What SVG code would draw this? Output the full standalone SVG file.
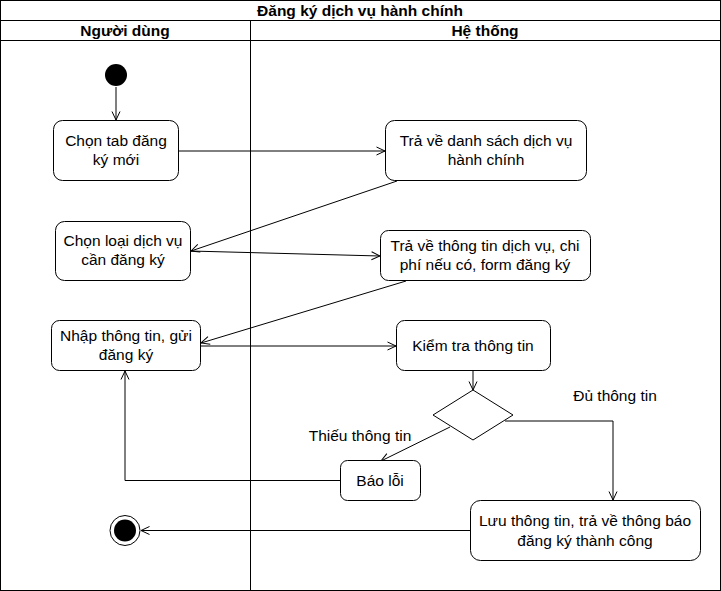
<svg xmlns="http://www.w3.org/2000/svg" width="721" height="591" viewBox="0 0 721 591">
<style>
.t{font-family:"Liberation Sans",Arial,sans-serif;font-size:15.5px;fill:#000;text-anchor:middle}
.h{font-family:"Liberation Sans",Arial,sans-serif;font-size:15.5px;font-weight:bold;fill:#000;text-anchor:middle}
.box{fill:#fff;stroke:#000;stroke-width:1}
.ln{fill:none;stroke:#000;stroke-width:1}
</style>
<defs>
<marker id="arr" viewBox="0 0 10 10" refX="9.5" refY="5" markerWidth="10" markerHeight="10" markerUnits="userSpaceOnUse" orient="auto">
<path d="M1,1 L9.5,5 L1,9" fill="none" stroke="#000" stroke-width="1"/>
</marker>
</defs>
<g id="pool">
<rect x="0.5" y="0.5" width="720" height="590" fill="#fff" stroke="#000"/>
<line x1="0.5" y1="20.5" x2="720.5" y2="20.5" stroke="#000"/>
<line x1="0.5" y1="40.5" x2="720.5" y2="40.5" stroke="#000"/>
<line x1="250.5" y1="20.5" x2="250.5" y2="590.5" stroke="#000"/>
<text class="h" x="360" y="16">Đăng ký dịch vụ hành chính</text>
<text class="h" x="125" y="36">Người dùng</text>
<text class="h" x="485" y="36">Hệ thống</text>
</g>
<g id="edges">
<path class="ln" d="M116,87 L116,120" marker-end="url(#arr)"/>
<path class="ln" d="M178,151 L385,151" marker-end="url(#arr)"/>
<path class="ln" d="M397,181 L191,251" marker-end="url(#arr)"/>
<path class="ln" d="M190,251 L380,256" marker-end="url(#arr)"/>
<path class="ln" d="M406,281 L201,343" marker-end="url(#arr)"/>
<path class="ln" d="M200,346 L396,346" marker-end="url(#arr)"/>
<path class="ln" d="M473,371 L473,390" marker-end="url(#arr)"/>
<path class="ln" d="M505,421 L613,421 L613,500" marker-end="url(#arr)"/>
<path class="ln" d="M450,427 L381,461" marker-end="url(#arr)"/>
<path class="ln" d="M340,480.5 L125,480.5 L125,371" marker-end="url(#arr)"/>
<path class="ln" d="M470,530.5 L141,530.5" marker-end="url(#arr)"/>
<text class="t" x="360" y="441">Thiếu thông tin</text>
<text class="t" x="615" y="401">Đủ thông tin</text>
</g>
<g id="start"><circle cx="116" cy="75" r="11" fill="#000"/></g>
<g id="n1"><rect class="box" x="53.5" y="120.5" width="125" height="60" rx="9"/>
<text class="t" x="116" y="146">Chọn tab đăng</text><text class="t" x="116" y="165">ký mới</text></g>
<g id="n2"><rect class="box" x="385.5" y="120.5" width="201" height="60" rx="9"/>
<text class="t" x="486" y="146">Trả về danh sách dịch vụ</text><text class="t" x="486" y="165">hành chính</text></g>
<g id="n3"><rect class="box" x="55.5" y="221.5" width="135" height="59" rx="9"/>
<text class="t" x="123" y="246">Chọn loại dịch vụ</text><text class="t" x="123" y="265">cần đăng ký</text></g>
<g id="n4"><rect class="box" x="380.5" y="230.5" width="210" height="50" rx="8"/>
<text class="t" x="485" y="251">Trả về thông tin dịch vụ, chi</text><text class="t" x="485" y="270">phí nếu có, form đăng ký</text></g>
<g id="n5"><rect class="box" x="51.5" y="320.5" width="149" height="50" rx="8"/>
<text class="t" x="126" y="341">Nhập thông tin, gửi</text><text class="t" x="126" y="360">đăng ký</text></g>
<g id="n6"><rect class="box" x="396.5" y="320.5" width="154" height="50" rx="8"/>
<text class="t" x="473" y="351">Kiểm tra thông tin</text></g>
<g id="decision"><polygon class="box" points="473,390 513,415 473,440 433,415"/></g>
<g id="n7"><rect class="box" x="340.5" y="460.5" width="80" height="40" rx="7"/>
<text class="t" x="380" y="486">Báo lỗi</text></g>
<g id="n8"><rect class="box" x="470.5" y="500.5" width="230" height="60" rx="10"/>
<text class="t" x="585" y="526">Lưu thông tin, trả về thông báo</text><text class="t" x="585" y="546">đăng ký thành công</text></g>
<g id="end"><circle cx="125" cy="530.5" r="15" fill="#fff" stroke="#000"/><circle cx="125" cy="530.5" r="11" fill="#000"/></g>
</svg>
